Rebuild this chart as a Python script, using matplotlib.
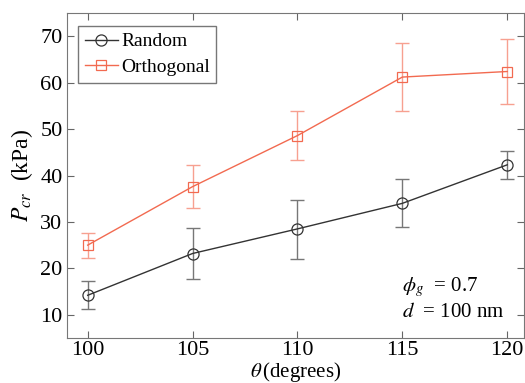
import matplotlib
matplotlib.use('Agg')
import matplotlib.pyplot as plt

plt.rcParams['font.family'] = 'Liberation Serif'
plt.rcParams['mathtext.fontset'] = 'stix'

theta = [100, 105, 110, 115, 120]

random_mean = [14.2, 23.2, 28.5, 34.0, 42.3]
random_low = [11.2, 17.7, 22.1, 28.9, 39.3]
random_high = [17.2, 28.7, 34.7, 39.2, 45.3]

orth_mean = [25.0, 37.6, 48.6, 61.2, 62.4]
orth_low = [22.3, 33.0, 43.3, 53.8, 55.4]
orth_high = [27.7, 42.3, 54.0, 68.5, 69.3]

rand_err = [[m - lo for m, lo in zip(random_mean, random_low)],
            [hi - m for m, hi in zip(random_mean, random_high)]]
orth_err = [[m - lo for m, lo in zip(orth_mean, orth_low)],
            [hi - m for m, hi in zip(orth_mean, orth_high)]]

fig = plt.figure(figsize=(5.25, 3.83), dpi=100)
ax = fig.add_axes([66.7 / 525, 45 / 383, (524 - 66.7) / 525, (338 - 13) / 383])

ax.errorbar(theta, random_mean, yerr=rand_err, fmt='none', ecolor='#777777',
            elinewidth=1, capsize=5, capthick=1)
ax.plot(theta, random_mean, color='#333333', lw=1, marker='o', ms=8,
        mfc='none', mec='#333333', mew=0.9, label='Random')
ax.errorbar(theta, orth_mean, yerr=orth_err, fmt='none', ecolor='#f7a090',
            elinewidth=1, capsize=5, capthick=1)
ax.plot(theta, orth_mean, color='#f26a50', lw=1, marker='s', ms=7,
        mfc='none', mec='#f26a50', mew=0.9, label='Orthogonal')

ax.set_xlim(99, 120.8)
ax.set_ylim(5, 75)
ax.set_xticks(theta)
ax.set_yticks([10, 20, 30, 40, 50, 60, 70])
ax.tick_params(direction='in', top=True, right=True, labelsize=16,
               length=5, color='#666666')
ax.tick_params(axis='x', pad=2)
ax.tick_params(axis='y', pad=3)
for s in ax.spines.values():
    s.set_color('#777777')

ax.set_xlabel(r'$\theta\,$(degrees)', fontsize=15, labelpad=0)
ax.set_ylabel(r'$P_{cr}$  (kPa)', fontsize=17, labelpad=4)

ax.text(115.0, 15.0, r'$\phi_g$  = 0.7', fontsize=15)
ax.text(115.0, 9.5, r'$d$  = 100 nm', fontsize=15)

leg = ax.legend(loc='upper left', fontsize=14, frameon=True, fancybox=False,
                edgecolor='#555555', handlelength=1.7, borderpad=0.35,
                labelspacing=0.4, handletextpad=0.15, borderaxespad=0,
                bbox_to_anchor=(0.025, 0.96))
leg.get_frame().set_linewidth(1)

fig.savefig('out.png', dpi=100)
